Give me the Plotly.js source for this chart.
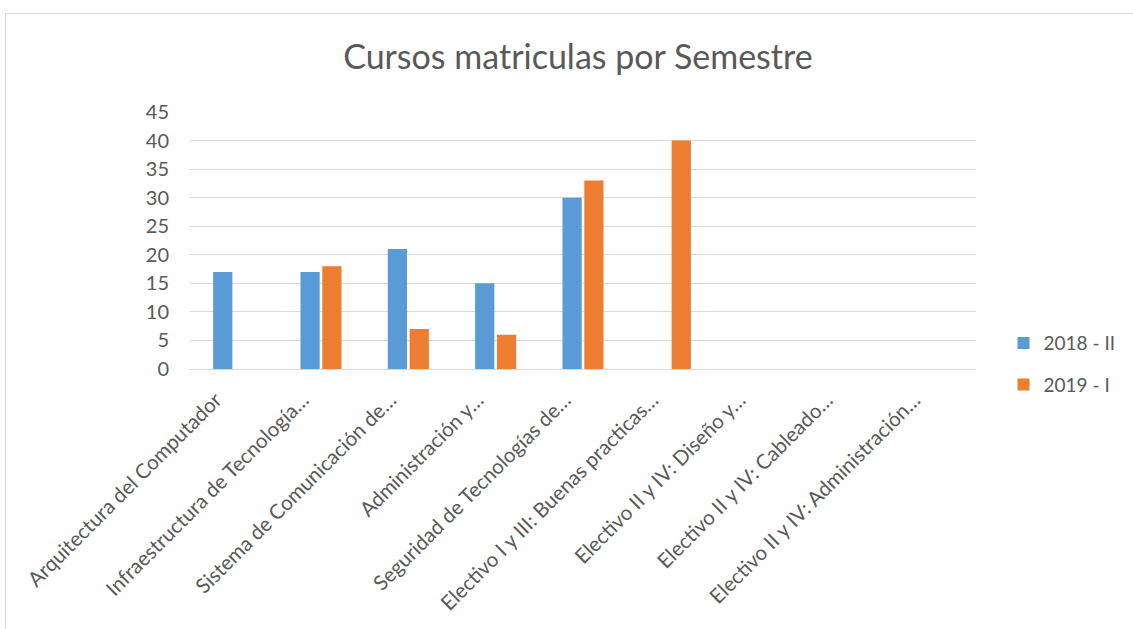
<!DOCTYPE html>
<html>
<head>
<meta charset="utf-8">
<script src="https://cdn.plot.ly/plotly-3.0.1.min.js"></script>
<style>
html,body{margin:0;padding:0;background:#fff;overflow:hidden;}
#frame{position:absolute;left:5px;top:13px;width:1140px;height:630px;border-left:1px solid #d9d9d9;border-top:1px solid #d9d9d9;}
#chart{position:absolute;left:6px;top:14px;width:1127px;height:615px;}
</style>
</head>
<body>
<div id="frame"></div>
<div id="chart"></div>
<script>
const categories = [
  "Arquitectura del Computador",
  "Infraestructura de Tecnología…",
  "Sistema de Comunicación de…",
  "Administración y…",
  "Seguridad de Tecnologías de…",
  "Electivo I y III: Buenas practicas…",
  "Electivo II y IV: Diseño y…",
  "Electivo II y IV: Cableado…",
  "Electivo II y IV: Administración…"
];
const serie2018II = [17, 17, 21, 15, 30, null, null, null, null];
const serie2019I = [null, 18, 7, 6, 33, 40, null, null, null];
const yTicks = [0, 5, 10, 15, 20, 25, 30, 35, 40, 45];

const fontFam = "Lato, 'Open Sans', sans-serif";
const traces = [
  {type: 'bar', name: '2018 - II', x: categories, y: serie2018II, legendgroup: 'a',
   marker: {color: '#5b9bd5'}},
  {type: 'bar', name: '2019 - I', x: categories, y: serie2019I, legendgroup: 'b',
   marker: {color: '#ed7d31'}}
];
const layout = {
  width: 1127, height: 615,
  margin: {l: 184, r: 153, t: 98, b: 260},
  paper_bgcolor: '#fff', plot_bgcolor: '#fff',
  font: {family: fontFam, color: '#595959', size: 19},
  title: {text: 'Cursos matriculas por Semestre', font: {size: 34, color: '#595959', family: fontFam},
          x: 0.5075, xref: 'container', xanchor: 'center', y: 0.93, yref: 'container', yanchor: 'middle'},
  barmode: 'group', bargap: 0.5, bargroupgap: 0.12,
  xaxis: {type: 'category', tickangle: -45, showline: true, linecolor: '#d9d9d9', linewidth: 1,
          showgrid: false, ticks: '', tickfont: {size: 20.5, color: '#595959'}, fixedrange: true,
          ticklabelstandoff: 10, ticklabelshift: -18},
  yaxis: {range: [0, 45], tickvals: yTicks, ticktext: yTicks.map(String), showgrid: true,
          gridcolor: '#d9d9d9', gridwidth: 1, zeroline: false, showline: false, ticks: '',
          ticklabelstandoff: 20, tickfont: {size: 20, color: '#595959'}, fixedrange: true},
  legend: {x: 1.035, xanchor: 'left', y: 0.175, yanchor: 'top', font: {size: 19, color: '#595959'},
           tracegroupgap: 14, itemwidth: 30, traceorder: 'grouped'},
  showlegend: true
};
Plotly.newPlot('chart', traces, layout, {staticPlot: true, displayModeBar: false});
</script>
</body>
</html>
